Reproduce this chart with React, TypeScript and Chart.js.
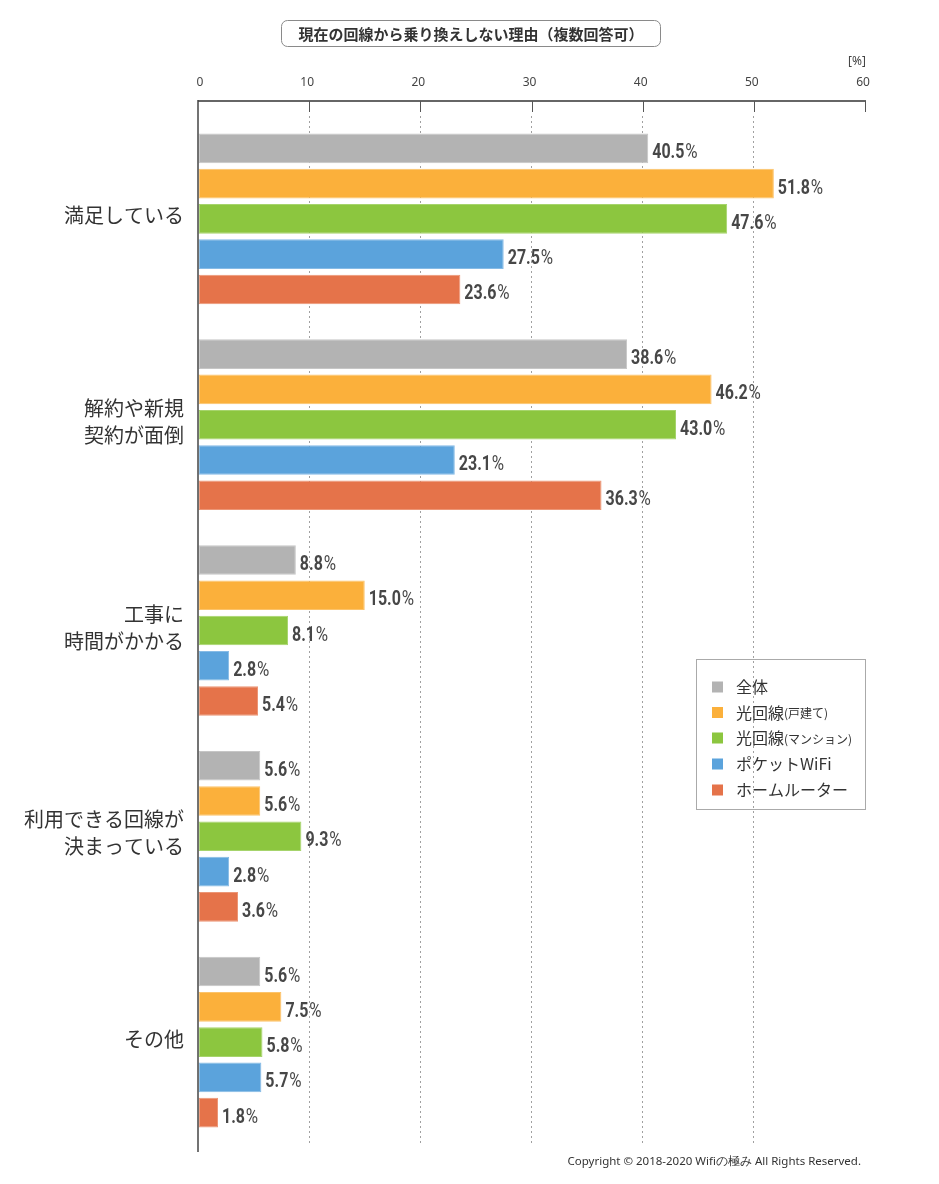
import { useEffect, useRef } from "react";
import { Chart, registerables } from "chart.js";
Chart.register(...registerables);

const categories = [["満足している"], ["解約や新規", "契約が面倒"], ["工事に", "時間がかかる"], ["利用できる回線が", "決まっている"], ["その他"]];
const seriesNames = ["全体", "光回線", "光回線", "ポケットWiFi", "ホームルーター"];
const seriesNotes = ["", "(戸建て)", "(マンション)", "", ""];
const allUsers = [40.5, 38.6, 8.8, 5.6, 5.6];
const fiberHouse = [51.8, 46.2, 15.0, 5.6, 7.5];
const fiberMansion = [47.6, 43.0, 8.1, 9.3, 5.8];
const pocketWifi = [27.5, 23.1, 2.8, 2.8, 5.7];
const homeRouter = [23.6, 36.3, 5.4, 3.6, 1.8];
const xTicks = [0, 10, 20, 30, 40, 50, 60];
const titleText = "現在の回線から乗り換えしない理由（複数回答可）";
const copyrightText = "Copyright © 2018-2020 Wifiの極み All Rights Reserved.";

const fills = ["#b3b3b3", "#fbb03b", "#8cc63f", "#5ba3dc", "#e5734a"];
const edges = ["#c6c6c6", "#fcc36a", "#a6d46c", "#86bbe6", "#ec9676"];

const JP = '"Noto Sans CJK JP", "Noto Sans", sans-serif';
const NUM = 'Roboto, "Noto Sans", sans-serif';

function roundRect(ctx: CanvasRenderingContext2D, x: number, y: number, w: number, h: number, r: number) {
  ctx.beginPath();
  ctx.moveTo(x + r, y);
  ctx.lineTo(x + w - r, y);
  ctx.arcTo(x + w, y, x + w, y + r, r);
  ctx.lineTo(x + w, y + h - r);
  ctx.arcTo(x + w, y + h, x + w - r, y + h, r);
  ctx.lineTo(x + r, y + h);
  ctx.arcTo(x, y + h, x, y + h - r, r);
  ctx.lineTo(x, y + r);
  ctx.arcTo(x, y, x + r, y, r);
  ctx.closePath();
}

const decorPlugin = {
  id: "decor",
  afterDraw(chart: any) {
    const ctx: CanvasRenderingContext2D = chart.ctx;
    const xs = chart.scales.x;
    ctx.save();

    // Title box
    roundRect(ctx, 281.5, 20.5, 379, 26, 6);
    ctx.strokeStyle = "#8a8a8a";
    ctx.lineWidth = 1;
    ctx.stroke();
    ctx.fillStyle = "#333";
    ctx.font = `bold 15px ${JP}`;
    ctx.textAlign = "center";
    ctx.textBaseline = "middle";
    ctx.fillText(titleText, 471, 34);

    // Top axis
    const left = xs.getPixelForValue(0);
    const right = xs.getPixelForValue(60);
    ctx.strokeStyle = "#666";
    ctx.lineWidth = 2;
    ctx.beginPath();
    ctx.moveTo(left, 101);
    ctx.lineTo(right + 1, 101);
    ctx.stroke();
    ctx.lineWidth = 1;
    ctx.strokeStyle = "#555";
    xTicks.forEach((v) => {
      if (v === 0) return;
      const px = Math.round(xs.getPixelForValue(v)) + 0.5;
      ctx.beginPath();
      ctx.moveTo(px, 101);
      ctx.lineTo(px, 112);
      ctx.stroke();
    });
    // Left axis
    ctx.strokeStyle = "#444";
    ctx.lineWidth = 1.5;
    ctx.beginPath();
    ctx.moveTo(left, 100);
    ctx.lineTo(left, 1152);
    ctx.stroke();

    // Tick labels
    ctx.fillStyle = "#444";
    ctx.font = `12px "Noto Sans", sans-serif`;
    ctx.textAlign = "center";
    ctx.textBaseline = "middle";
    xTicks.forEach((v) => {
      const px = xs.getPixelForValue(v);
      ctx.fillText(String(v), v === 0 ? px + 2 : px - 2, 83);
    });
    ctx.fillText("[%]", right - 8, 62);

    // Data labels (condensed look)
    chart.data.datasets.forEach((ds: any, i: number) => {
      const meta = chart.getDatasetMeta(i);
      meta.data.forEach((el: any, j: number) => {
        const val = ds.data[j];
        const txt = val.toFixed(1);
        const x0 = el.x + 4;
        const y0 = el.y + 10;
        ctx.save();
        ctx.translate(x0, y0);
        ctx.scale(0.8, 1);
        ctx.fillStyle = "#474747";
        ctx.textAlign = "left";
        ctx.textBaseline = "alphabetic";
        ctx.font = `bold 20px ${NUM}`;
        ctx.fillText(txt, 0, 0);
        const w = ctx.measureText(txt).width;
        ctx.font = `21px ${NUM}`;
        ctx.fillText("%", w + 1, 0);
        ctx.restore();
      });
    });

    // Legend
    ctx.strokeStyle = "#aaa";
    ctx.lineWidth = 1;
    ctx.strokeRect(696.5, 659.5, 169, 150);
    const rows = [687, 712.5, 738, 764, 790];
    seriesNames.forEach((name, i) => {
      const cy = rows[i];
      ctx.fillStyle = fills[i];
      ctx.fillRect(712, cy - 5.5, 11, 11);
      ctx.fillStyle = "#333";
      ctx.textAlign = "left";
      ctx.textBaseline = "middle";
      ctx.font = `16px ${JP}`;
      ctx.fillText(name, 736, cy);
      if (seriesNotes[i]) {
        const w = ctx.measureText(name).width;
        ctx.font = `12px ${JP}`;
        ctx.fillText(seriesNotes[i], 736 + w, cy + 1);
      }
    });

    // Copyright
    ctx.fillStyle = "#333";
    ctx.font = `11.5px "Noto Sans", sans-serif`;
    ctx.textAlign = "right";
    ctx.textBaseline = "middle";
    ctx.fillText(copyrightText, 861, 1162);

    ctx.restore();
  },
};

export default function App() {
  const ref = useRef<HTMLCanvasElement>(null);
  useEffect(() => {
    if (!ref.current) return;
    const seriesValues = [allUsers, fiberHouse, fiberMansion, pocketWifi, homeRouter];
    const chart = new Chart(ref.current, {
      type: "bar",
      data: {
        labels: categories,
        datasets: seriesValues.map((d, i) => ({
          label: seriesNames[i] + seriesNotes[i],
          data: d,
          backgroundColor: fills[i],
          borderColor: edges[i],
          borderWidth: 1,
          borderSkipped: false,
          categoryPercentage: 0.857,
          barPercentage: 0.84,
        })),
      },
      options: {
        indexAxis: "y",
        animation: false,
        responsive: false,
        devicePixelRatio: 1,
        layout: { padding: { left: 0, right: 74, top: 0, bottom: 39 } },
        plugins: { legend: { display: false }, title: { display: false }, tooltip: { enabled: false } },
        scales: {
          x: {
            type: "linear",
            position: "top",
            min: 0,
            max: 60,
            ticks: { display: false, stepSize: 10 },
            grid: {
              drawTicks: false,
              color: (c: any) => (c.tick && (c.tick.value === 0 || c.tick.value === 60) ? "rgba(0,0,0,0)" : "#a0a0a0"),
              lineWidth: 1,
            },
            border: { display: false, dash: [2, 3] },
            afterFit: (s: any) => {
              s.height = 116;
            },
          },
          y: {
            type: "category",
            grid: { display: false, drawTicks: false },
            border: { display: false },
            ticks: {
              color: "#333",
              padding: 14,
              labelOffset: -3,
              font: { family: JP, size: 20, lineHeight: 1.35 },
            },
            afterFit: (s: any) => {
              s.width = 198;
            },
          },
        },
      },
      plugins: [decorPlugin],
    });
    return () => chart.destroy();
  }, []);
  return (
    <div style={{ position: "absolute", left: 0, top: 0, width: 939, height: 1184, background: "#fff" }}>
      <canvas ref={ref} width={939} height={1184} style={{ width: 939, height: 1184, display: "block" }} />
    </div>
  );
}
